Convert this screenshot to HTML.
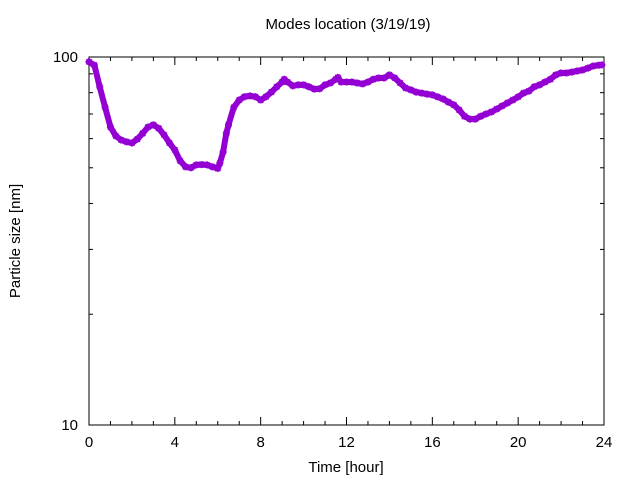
<!DOCTYPE html>
<html><head><meta charset="utf-8"><style>
body{margin:0;background:#fff}
svg{display:block;font-family:"Liberation Sans",sans-serif}
</style></head><body>
<svg id="c" width="640" height="480" viewBox="0 0 640 480">
<rect width="640" height="480" fill="#fff"/>
<text x="348" y="29" text-anchor="middle" font-size="15">Modes location (3/19/19)</text>
<text x="346" y="472" text-anchor="middle" font-size="15">Time [hour]</text>
<text transform="translate(20,241) rotate(-90)" text-anchor="middle" font-size="15">Particle size [nm]</text>
<g id="axes"></g>
<g id="series"></g>
</svg>
<script>
const times = [0,0.25,0.5,0.75,1,1.25,1.5,1.75,2,2.25,2.5,2.75,3,3.25,3.5,3.75,4,4.25,4.5,4.75,5,5.25,5.5,5.75,6,6.1,6.25,6.4,6.5,6.75,7,7.25,7.5,7.75,8,8.25,8.5,8.75,9,9.1,9.25,9.5,9.75,10,10.25,10.5,10.75,11,11.25,11.5,11.6,11.75,12,12.25,12.5,12.75,13,13.25,13.5,13.75,14,14.25,14.5,14.75,15,15.25,15.5,15.75,16,16.25,16.5,16.75,17,17.25,17.5,17.75,18,18.25,18.5,18.75,19,19.25,19.5,19.75,20,20.25,20.5,20.75,21,21.25,21.5,21.75,22,22.25,22.5,22.75,23,23.25,23.5,23.75,23.9];
const sizes = [97,95,83,73,64.5,61,59.5,58.8,58.4,59.8,62,64.5,65.4,64,61.4,58.4,55.9,52.2,50.3,50,50.9,51,50.9,50.3,49.8,51.5,55.2,62,65.4,73,76.4,78,78.4,78,76.4,78,80.3,83,85.5,87,85.5,83.5,84,84,83,81.8,82,84,85,87,88,85.5,85.5,85.5,85,84.5,85.5,87,87.7,87.7,89.4,87.7,85,82.4,81.4,80.3,79.8,79.3,78.9,77.9,76.9,75.4,74.1,71.8,69,67.8,67.8,69,70,70.9,72.2,73.6,75,76.4,77.9,79.8,80.8,83,84,85.5,87,89.4,90.5,90.5,91,91.6,92.2,93.3,94.5,95,95.2];
const xTicks = [0,4,8,12,16,20,24];
const yTicks = [10,100];

const NS="http://www.w3.org/2000/svg";
const L=89,R=604,T=57,B=425;
const xs=t=>L+(t/24)*(R-L);
const ys=v=>B-(Math.log10(v)-1)*(B-T);
function mk(tag,attrs,parent){const e=document.createElementNS(NS,tag);for(const k in attrs)e.setAttribute(k,attrs[k]);parent.appendChild(e);return e;}
const ax=document.getElementById('axes');
const frame=mk('rect',{x:L,y:T,width:R-L,height:B-T,fill:'none',stroke:'#000','stroke-width':1},ax);


for(let h=0;h<=24;h++){
  const len=(h%4===0)?8:4;const x=xs(h);
  const t1=mk('line',{x1:x,y1:B,x2:x,y2:B-len,stroke:'#000'},ax);
  
  
  const t2=mk('line',{x1:x,y1:T,x2:x,y2:T+len,stroke:'#000'},ax);
  
  
}
xTicks.forEach(h=>{
  const tx=mk('text',{x:xs(h),y:447,'text-anchor':'middle','font-size':15},ax);
  tx.textContent=h;
  
  
});
for(let v=10;v<=100;v+=10){
  const len=(v===10||v===100)?8:4;const y=ys(v);
  const a=mk('line',{x1:L,y1:y,x2:L+len,y2:y,stroke:'#000'},ax);
  
  
  const b=mk('line',{x1:R,y1:y,x2:R-len,y2:y,stroke:'#000'},ax);
  
  
}
yTicks.forEach(v=>{
  const tx=mk('text',{x:78,y:ys(v)+5,'text-anchor':'end','font-size':15},ax);
  tx.textContent=v;
  
  
});
const sg=document.getElementById('series');
const pts=times.map((t,i)=>xs(t).toFixed(1)+','+ys(sizes[i]).toFixed(1)).join(' ');
const pl=mk('polyline',{points:pts,fill:'none',stroke:'#9400d3','stroke-width':6,'stroke-linejoin':'round','stroke-linecap':'round'},sg);


times.forEach((t,i)=>{
  const x=xs(t),y=ys(sizes[i]),s=3.5;
  const g=mk('path',{d:`M${x-s},${y}H${x+s}M${x},${y-s}V${y+s}M${x-2.6},${y-2.6}L${x+2.6},${y+2.6}M${x-2.6},${y+2.6}L${x+2.6},${y-2.6}`,stroke:'#9400d3','stroke-width':2,fill:'none'},sg);
  
  
});
</script>
</body></html>
